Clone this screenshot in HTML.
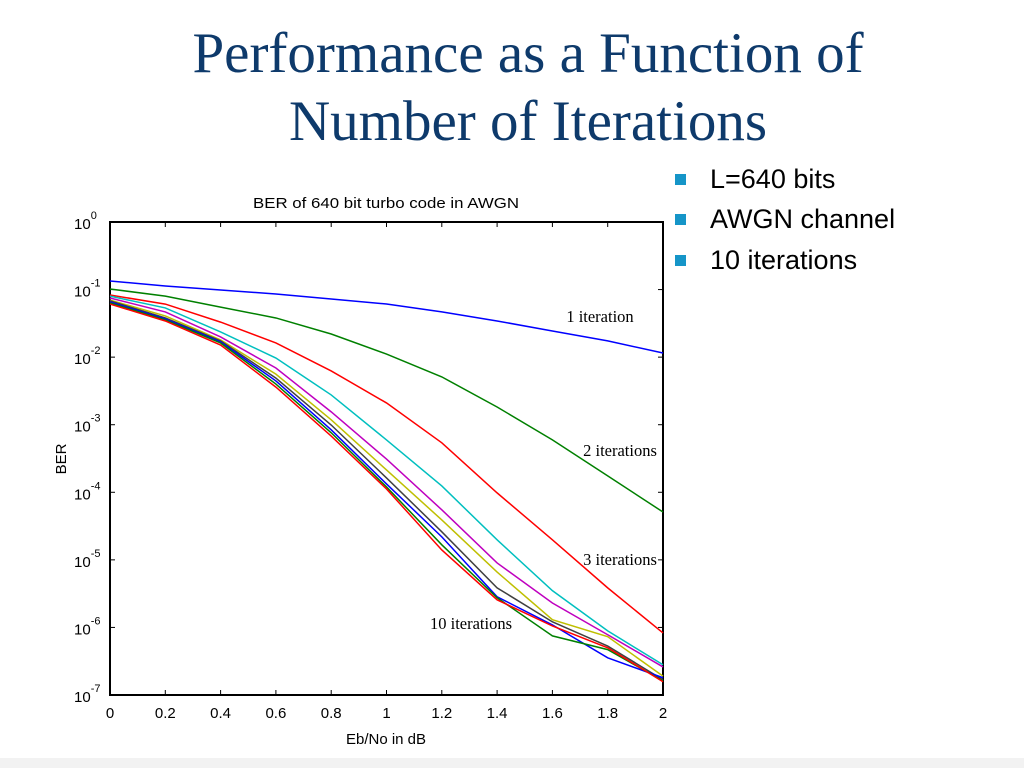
<!DOCTYPE html>
<html><head><meta charset="utf-8"><style>
body{margin:0;width:1024px;height:768px;background:#fff;overflow:hidden;position:relative;font-family:"Liberation Sans",sans-serif}
#title{position:absolute;left:0;width:1056px;top:20px;text-align:center;font-family:"Liberation Serif",serif;font-size:57px;line-height:68px;color:#0e3a6b}
.b{position:absolute;left:675px;font-size:27px;color:#000}
.b span{display:inline-block;width:11px;height:11px;background:#1595c8;margin-right:24px;vertical-align:3px}
</style></head><body>
<div id="title">Performance as a Function of<br>Number of Iterations</div>
<div class="b" style="top:164px"><span></span>L=640 bits</div>
<div class="b" style="top:204px"><span></span>AWGN channel</div>
<div class="b" style="top:245px"><span></span>10 iterations</div>
<div style="position:absolute;left:0;top:758px;width:1024px;height:10px;background:#f2f2f2"></div>
<svg id="chart" width="1024" height="768" style="position:absolute;left:0;top:0"></svg>
<script>
const xVals=[0,0.2,0.4,0.6,0.8,1.0,1.2,1.4,1.6,1.8,2.0];
const xTicks=["0","0.2","0.4","0.6","0.8","1","1.2","1.4","1.6","1.8","2"];
const yExps=[0,-1,-2,-3,-4,-5,-6,-7];
const it1=[0.134,0.113,0.0986,0.086,0.0726,0.0612,0.0467,0.0343,0.0244,0.0174,0.0115];
const it2=[0.102,0.080,0.055,0.038,0.022,0.0111,5.1e-3,1.83e-3,5.96e-4,1.75e-4,5.1e-5];
const it3=[0.083,0.061,0.033,0.0162,6.25e-3,2.1e-3,5.4e-4,9.8e-5,1.98e-5,3.85e-6,8.3e-7];
const it4=[0.080,0.0535,0.0236,9.7e-3,2.76e-3,5.96e-4,1.24e-4,1.98e-5,3.5e-6,8.9e-7,2.8e-7];
const it5=[0.075,0.0467,0.0199,6.9e-3,1.55e-3,3.1e-4,5.5e-5,9.0e-6,2.3e-6,7.8e-7,2.6e-7];
const it6=[0.070,0.0407,0.0180,5.6e-3,1.18e-3,2.14e-4,3.9e-5,6.6e-6,1.3e-6,7.3e-7,1.9e-7];
const it7=[0.068,0.038,0.0174,4.9e-3,9.9e-4,1.63e-4,2.6e-5,3.85e-6,1.21e-6,5.3e-7,1.68e-7];
const it8=[0.0655,0.0367,0.0168,4.45e-3,8.4e-4,1.33e-4,2.19e-5,2.84e-6,1.09e-6,3.55e-7,1.8e-7];
const it9=[0.0633,0.0355,0.0162,4.0e-3,7.6e-4,1.2e-4,1.67e-5,2.75e-6,7.5e-7,4.7e-7,1.62e-7];
const it10=[0.061,0.0343,0.0151,3.6e-3,6.8e-4,1.12e-4,1.4e-5,2.56e-6,1.05e-6,5.0e-7,1.57e-7];
const series=[it1,it2,it3,it4,it5,it6,it7,it8,it9,it10];
const colors=["#0000ff","#008000","#ff0000","#00bfbf","#bf00bf","#bfbf00","#404040","#0000ff","#008000","#ff0000"];
const L=110,R=663,T=222,B=695;
const xs=v=>L+(v-0)/2*(R-L);
const ys=v=>T+(-Math.log10(v))/7*(B-T);
const NS="http://www.w3.org/2000/svg";
const svg=document.getElementById('chart');
function mk(t,a,txt){const e=document.createElementNS(NS,t);for(const k in a)e.setAttribute(k,a[k]);if(txt!==undefined)e.textContent=txt;svg.appendChild(e);return e;}
const box=mk('rect',{x:L,y:T,width:R-L,height:B-T,fill:'none',stroke:'#000','stroke-width':2});


xVals.forEach((v,i)=>{
 const x=xs(v);
 mk('line',{x1:x,x2:x,y1:B,y2:B-5,stroke:'#000'});mk('line',{x1:x,x2:x,y1:T,y2:T+5,stroke:'#000'});
 const t=mk('text',{x:x,y:B+23,'text-anchor':'middle','font-size':15},xTicks[i]);
 
 
});
yExps.forEach(e=>{
 const y=ys(Math.pow(10,e));
 mk('line',{x1:L,x2:L+5,y1:y,y2:y,stroke:'#000'});mk('line',{x1:R,x2:R-5,y1:y,y2:y,stroke:'#000'});
 const t=mk('text',{x:74,y:y+7,'font-size':15});
 
 
 t.innerHTML='10<tspan dy="-10" font-size="11">'+e+'</tspan>';
});
series.forEach((s,i)=>{
 const p=mk('polyline',{points:s.map((v,j)=>xs(xVals[j])+','+ys(v)).join(' '),fill:'none',stroke:colors[i],'stroke-width':1.5});
 
 
});
const labels=[["1 iteration",600,322],["2 iterations",620,456],["3 iterations",620,565],["10 iterations",471,629]];
labels.forEach(l=>{
 const t=mk('text',{x:l[1],y:l[2],'text-anchor':'middle','font-size':16.5,'font-family':'Liberation Serif, serif'},l[0]);
 
 
});
const ct=mk('text',{x:386,y:208,'text-anchor':'middle','font-size':15,textLength:266,lengthAdjust:'spacingAndGlyphs'},'BER of 640 bit turbo code in AWGN');


const xt=mk('text',{x:386,y:744,'text-anchor':'middle','font-size':15},'Eb/No in dB');


const yt=mk('text',{x:0,y:0,'text-anchor':'middle','font-size':15,transform:'translate(66,459) rotate(-90)'},'BER');


</script>
</body></html>
